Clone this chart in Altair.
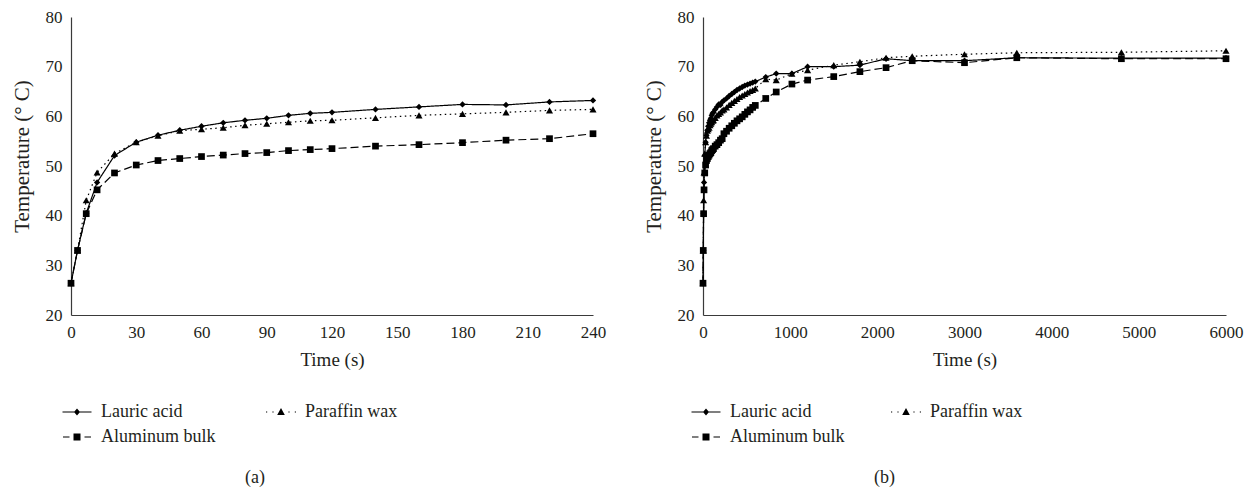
import altair as alt
import pandas as pd

series_order = ["Lauric acid", "Paraffin wax", "Aluminum bulk"]
legend_order = ["Lauric acid", "Aluminum bulk", "Paraffin wax"]

# Panel (a): first 240 s
time_a = [0, 3, 7, 12, 20, 30, 40, 50, 60, 70, 80, 90, 100, 110, 120, 140, 160, 180, 200, 220, 240]
lauric_a = [26.4, 33.0, 40.5, 46.7, 52.1, 54.8, 56.2, 57.2, 58.0, 58.7, 59.2, 59.6, 60.2, 60.6, 60.8,
            61.4, 61.9, 62.4, 62.3, 62.9, 63.2]
paraffin_a = [26.4, 33.0, 43.1, 48.7, 52.5, 54.8, 56.1, 57.1, 57.4, 57.7, 58.2, 58.5, 58.8, 59.1, 59.2,
              59.7, 60.2, 60.5, 60.8, 61.2, 61.4]
aluminum_a = [26.4, 33.0, 40.4, 45.2, 48.6, 50.2, 51.1, 51.5, 51.9, 52.2, 52.5, 52.7, 53.1, 53.3, 53.5,
              54.0, 54.3, 54.7, 55.2, 55.5, 56.5]

# Panel (b): continuation up to 6000 s
time_b_extra = [270, 300, 330, 360, 390, 420, 450, 480, 510, 540, 570, 600, 720, 840, 1020, 1200,
                1500, 1800, 2100, 2400, 3000, 3600, 4800, 6000]
lauric_b_extra = [63.6, 64.1, 64.5, 64.9, 65.3, 65.6, 65.9, 66.2, 66.4, 66.6, 66.8, 67.0, 67.9, 68.6,
                  68.6, 70.0, 70.0, 70.3, 71.6, 71.2, 71.2, 71.8, 71.7, 71.7]
paraffin_b_extra = [61.8, 62.3, 62.7, 63.1, 63.5, 63.9, 64.2, 64.5, 64.8, 65.1, 65.3, 65.6, 67.5, 67.3,
                    68.6, 69.3, 70.3, 71.0, 71.8, 72.1, 72.5, 72.8, 72.9, 73.2]
aluminum_b_extra = [57.0, 57.6, 58.1, 58.6, 59.1, 59.5, 59.9, 60.4, 60.9, 61.3, 61.8, 62.2, 63.6, 64.9,
                    66.5, 67.3, 68.0, 69.0, 69.8, 71.2, 70.8, 71.8, 71.6, 71.6]

x_ticks_a = [0, 30, 60, 90, 120, 150, 180, 210, 240]
x_ticks_b = [0, 1000, 2000, 3000, 4000, 5000, 6000]
y_ticks = [20, 30, 40, 50, 60, 70, 80]


def long_df(times, lau, par, alu):
    rows = []
    for name, vals in zip(series_order, [lau, par, alu]):
        for t, v in zip(times, vals):
            rows.append({"time": t, "temp": v, "series": name})
    return pd.DataFrame(rows)


df_a = long_df(time_a, lauric_a, paraffin_a, aluminum_a)
df_b = long_df(time_a + time_b_extra, lauric_a + lauric_b_extra,
               paraffin_a + paraffin_b_extra, aluminum_a + aluminum_b_extra)

FONT = "Liberation Serif"
INK = "#231f20"

line_styles = {
    "Lauric acid": [1, 0],
    "Paraffin wax": [1.5, 3.5],
    "Aluminum bulk": [8, 4],
}
point_styles = {
    "Lauric acid": ("diamond", 40),
    "Paraffin wax": ("triangle-up", 50),
    "Aluminum bulk": ("square", 45),
}

# legend glyphs (line segments drawn as thin filled bars + marker), in legend_order
legend_paths = [
    "M-1.45,-0.06H1.45V0.06H-1.45ZM0,-0.35L0.3,0L0,0.35L-0.3,0Z",
    "M-1.4,-0.06H-0.75V0.06H-1.4ZM0.75,-0.06H1.4V0.06H0.75ZM-0.35,-0.35H0.35V0.35H-0.35Z",
    "M-1.5,-0.06H-1.38V0.06H-1.5ZM-0.86,-0.06H-0.74V0.06H-0.86ZM0.74,-0.06H0.86V0.06H0.74Z"
    "M1.38,-0.06H1.5V0.06H1.38ZM0,-0.4L0.38,0.3H-0.38Z",
]


def panel(df, xmax, xticks, legend_x, col_pad, label, label_dx, width):
    base = alt.Chart(df).encode(
        x=alt.X("time:Q", scale=alt.Scale(domain=[0, xmax], nice=False),
                axis=alt.Axis(values=xticks, title="Time (s)", format="d", labelFlush=False)),
        y=alt.Y("temp:Q", scale=alt.Scale(domain=[20, 80], nice=False),
                axis=alt.Axis(values=y_ticks, title="Temperature (° C)", titleY=139)),
    )
    layers = []
    for s in series_order:
        sub = base.transform_filter(alt.datum.series == s)
        layers.append(sub.mark_line(color="black", strokeWidth=1.2, strokeDash=line_styles[s]))
    for s in ["Paraffin wax", "Lauric acid", "Aluminum bulk"]:
        sub = base.transform_filter(alt.datum.series == s)
        shp, sz = point_styles[s]
        layers.append(sub.mark_point(shape=shp, size=sz, filled=True, color="black", opacity=1))
    legend_layer = alt.Chart(df).transform_filter("false").mark_point(
        filled=True, color="black", opacity=1
    ).encode(
        shape=alt.Shape("series:N", scale=alt.Scale(domain=legend_order, range=legend_paths),
                        legend=alt.Legend(
                            title=None, orient="none", legendX=legend_x, legendY=385,
                            columns=2, direction="vertical", columnPadding=col_pad, rowPadding=6,
                            symbolSize=400, symbolFillColor="black", symbolStrokeWidth=0,
                            symbolOpacity=1,
                            labelFont=FONT, labelFontSize=18, labelColor=INK, labelOffset=14,
                        ))
    )
    layers.append(legend_layer)
    return alt.layer(*layers).properties(
        width=width, height=298,
        title=alt.TitleParams(label, orient="bottom", anchor="middle", dx=label_dx, offset=23,
                              font=FONT, fontSize=18, fontWeight="normal", color=INK),
    )


pa = panel(df_a, 240, x_ticks_a, -4, 50, "(a)", -77, 522)
pb = panel(df_b, 6000, x_ticks_b, -7, 46, "(b)", -80, 523)

chart = alt.hconcat(pa, pb, spacing=110, bounds="flush").resolve_scale(
    shape="independent"
).resolve_legend(shape="independent").configure_axis(
    grid=False, ticks=False, domainColor="#3a3a3a", domainWidth=1.2,
    labelFont=FONT, labelFontSize=17, labelColor=INK, labelPadding=9,
    titleFont=FONT, titleFontSize=19, titleFontWeight="normal", titleColor=INK,
).configure_axisY(titlePadding=13, titleFontSize=21).configure_axisX(titlePadding=10).configure_view(
    stroke=None
).properties(
    padding={"left": 3, "top": 0, "right": 5, "bottom": 0}, background="white"
)

chart.save("out.html", embed_options={"renderer": "svg", "actions": False})
